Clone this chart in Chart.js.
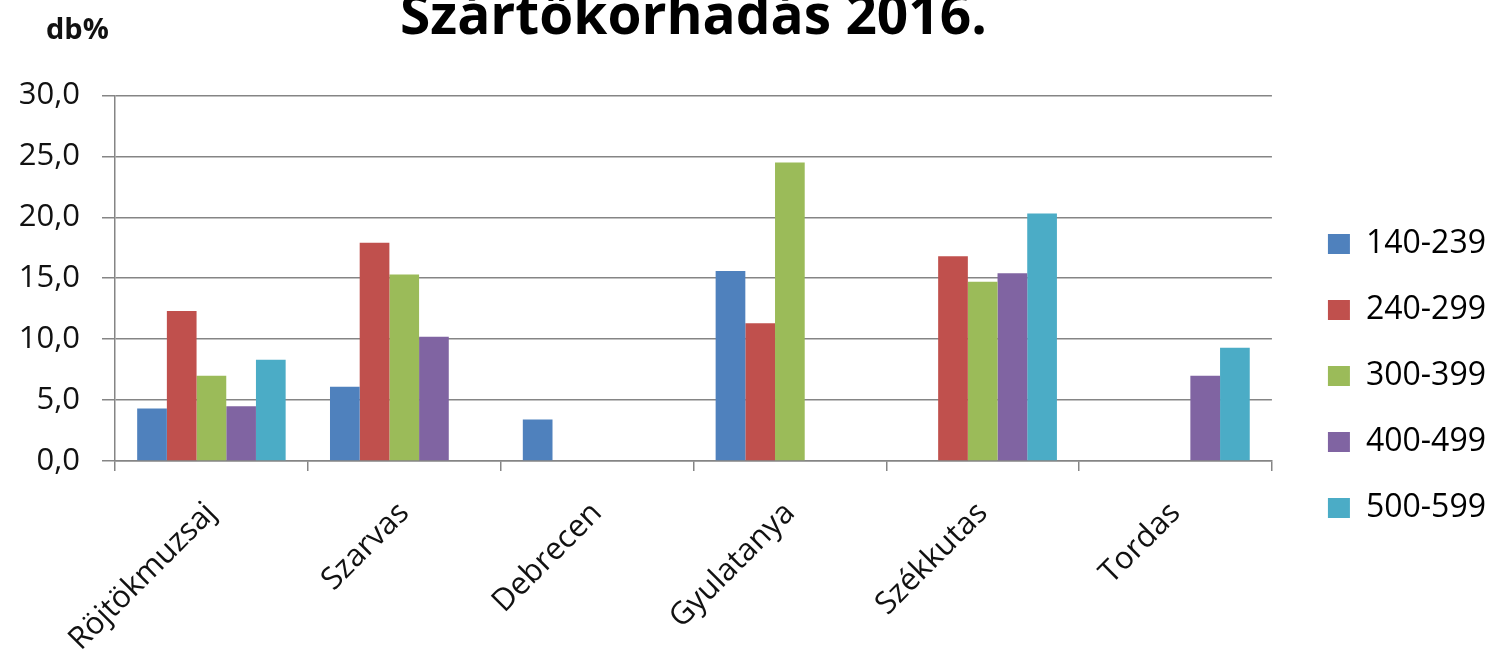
<!DOCTYPE html>
<html>
<head>
<meta charset="utf-8">
<script src="https://cdn.jsdelivr.net/npm/chart.js@4/dist/chart.umd.min.js"></script>
<style>
  html, body { margin: 0; padding: 0; background: #fff; }
  canvas { display: block; }
</style>
</head>
<body>
<canvas id="chart" width="1500" height="662"></canvas>
<script>
const categories = ['Röjtökmuzsaj', 'Szarvas', 'Debrecen', 'Gyulatanya', 'Székkutas', 'Tordas'];
const seriesLabels = ['140-239', '240-299', '300-399', '400-499', '500-599'];
const values140 = [4.3, 6.1, 3.4, 15.6, 0, 0];
const values240 = [12.3, 17.9, 0, 11.3, 16.8, 0];
const values300 = [7.0, 15.3, 0, 24.5, 14.7, 0];
const values400 = [4.5, 10.2, 0, 0, 15.4, 7.0];
const values500 = [8.3, 0, 0, 0, 20.3, 9.3];
const yTicks = [0, 5, 10, 15, 20, 25, 30];

const seriesValues = [values140, values240, values300, values400, values500];
const seriesColors = ['#4F81BD', '#C0504D', '#9BBB59', '#8064A2', '#4BACC6'];
const FONT = "'Open Sans', 'DejaVu Sans', sans-serif";
const gridGray = '#858585';

// small "db%" unit label, top left
const unitLabel = {
    id: 'unitLabel',
    afterDraw(chart) {
        const ctx = chart.ctx;
        ctx.save();
        ctx.font = 'bold 29px ' + FONT;
        ctx.fillStyle = '#111';
        ctx.textBaseline = 'alphabetic';
        ctx.fillText('db%', 46, 39);
        ctx.restore();
    }
};

// nudge the legend block to where it sits in the original
const legendNudge = {
    id: 'legendNudge',
    afterUpdate(chart) {
        const lg = chart.legend;
        const dx = 22, dy = 45;
        lg.left += dx; lg.right += dx;
        lg.top += dy; lg.bottom += dy;
        lg.adjustHitBoxes();
    }
};

const ctx = document.getElementById('chart').getContext('2d');
new Chart(ctx, {
    type: 'bar',
    data: {
        labels: categories,
        datasets: seriesValues.map((vals, i) => ({
            label: seriesLabels[i],
            data: vals,
            backgroundColor: seriesColors[i],
            borderWidth: 0,
            barPercentage: 1.0,
            categoryPercentage: 0.77
        }))
    },
    options: {
        responsive: false,
        animation: false,
        layout: { padding: { left: 0, right: 26, top: 0, bottom: 0 } },
        plugins: {
            title: {
                display: true,
                fullSize: false,
                text: 'Szártőkorhadás 2016.',
                color: '#000',
                font: { family: FONT, size: 55, weight: 'bold', lineHeight: 0.68 },
                padding: { top: 0, bottom: 58 }
            },
            legend: {
                position: 'right',
                align: 'center',
                labels: {
                    boxWidth: 22,
                    boxHeight: 20,
                    padding: 34,
                    color: '#000',
                    font: { family: FONT, size: 32 }
                }
            },
            tooltip: { enabled: false }
        },
        scales: {
            x: {
                grid: {
                    display: true,
                    offset: true,
                    drawOnChartArea: false,
                    drawTicks: true,
                    tickLength: 10,
                    color: gridGray,
                    lineWidth: 1.5
                },
                border: { display: true, color: gridGray, width: 1.5 },
                ticks: {
                    minRotation: 45,
                    maxRotation: 45,
                    color: '#111',
                    padding: 24,
                    font: { family: FONT, size: 31 }
                },
                afterFit(scale) { scale.height = 201; }
            },
            y: {
                min: 0,
                max: 30,
                afterBuildTicks(scale) { scale.ticks = yTicks.map(v => ({ value: v })); },
                grid: {
                    color: gridGray,
                    lineWidth: 1.5,
                    drawTicks: true,
                    tickLength: 13
                },
                border: { display: true, color: gridGray, width: 1.5 },
                ticks: {
                    color: '#111',
                    padding: 22,
                    font: { family: FONT, size: 31 },
                    callback: v => v.toFixed(1).replace('.', ',')
                },
                afterFit(scale) { scale.width = 115; }
            }
        }
    },
    plugins: [unitLabel, legendNudge]
});
</script>
</body>
</html>
